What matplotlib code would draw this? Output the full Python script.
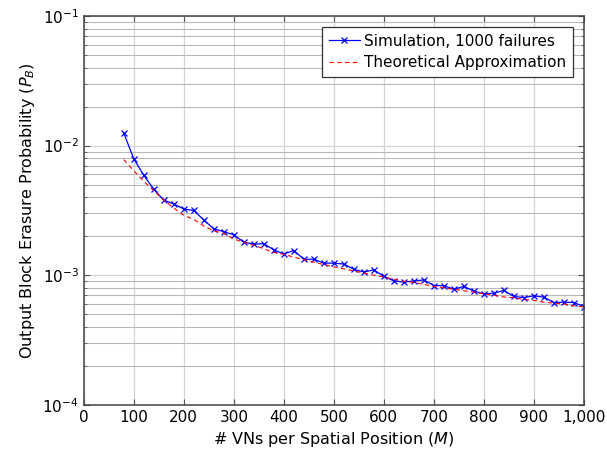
import matplotlib.pyplot as plt
import numpy as np
from matplotlib.ticker import FixedLocator, LogLocator, NullFormatter

# values
M = [80, 100, 120, 140, 160, 180, 200, 220, 240, 260, 280, 300, 320, 340, 360, 380,
     400, 420, 440, 460, 480, 500, 520, 540, 560, 580, 600, 620, 640, 660, 680, 700,
     720, 740, 760, 780, 800, 820, 840, 860, 880, 900, 920, 940, 960, 980, 1000]
sim = [0.0125, 0.0079, 0.0059, 0.0046, 0.0038, 0.00355, 0.00324, 0.00316, 0.00267, 0.00228,
       0.00217, 0.00205, 0.0018, 0.00174, 0.00175, 0.00157, 0.00146, 0.00155, 0.00133, 0.00133,
       0.00124, 0.00124, 0.00122, 0.00111, 0.00106, 0.0011, 0.00098, 0.000905, 0.000885, 0.000905,
       0.00092, 0.000833, 0.00083, 0.00078, 0.00082, 0.000754, 0.000719, 0.000728, 0.000763,
       0.000686, 0.000673, 0.000694, 0.000677, 0.000616, 0.00062, 0.000616, 0.000574]
theory = [0.0078, 0.0064, 0.0053, 0.0045, 0.0038, 0.0033, 0.0029, 0.0027, 0.0024, 0.0022,
          0.0021, 0.0019, 0.0018, 0.0017, 0.0016, 0.0015, 0.00145, 0.00138, 0.00132, 0.00126,
          0.00121, 0.00116, 0.00112, 0.00108, 0.00104, 0.001, 0.00097, 0.00093, 0.0009, 0.00088,
          0.00085, 0.00082, 0.0008, 0.00078, 0.00076, 0.00074, 0.00072, 0.0007, 0.00068,
          0.00067, 0.00065, 0.00064, 0.00062, 0.00061, 0.0006, 0.00058, 0.00057]
xticks = [0, 100, 200, 300, 400, 500, 600, 700, 800, 900, 1000]
xticklabels = ['0', '100', '200', '300', '400', '500', '600', '700', '800', '900', '1,000']

plt.rcParams['font.family'] = 'DejaVu Sans'
plt.rcParams['mathtext.fontset'] = 'dejavusans'

fig = plt.figure(figsize=(6.07, 4.57), dpi=100)
ax = fig.add_axes([0.138, 0.114, 0.824, 0.851])

ax.plot(M, sim, color='blue', lw=0.9, marker='x', ms=4, mew=0.9,
        label='Simulation, 1000 failures')
ax.plot(M, theory, color='red', lw=0.8, ls=(0, (4, 3)),
        label='Theoretical Approximation')

ax.set_yscale('log')
ax.set_xlim(0, 1000)
ax.set_ylim(1e-4, 1e-1)
ax.xaxis.set_major_locator(FixedLocator(xticks))
ax.set_xticklabels(xticklabels)
ax.yaxis.set_major_locator(LogLocator(base=10, numticks=10))
ax.yaxis.set_minor_locator(LogLocator(base=10, subs=np.arange(2, 10), numticks=20))
ax.yaxis.set_minor_formatter(NullFormatter())

ax.grid(True, which='major', color='#d3d3d3', lw=0.9)
ax.grid(True, which='minor', axis='y', color='#b8b8b8', lw=0.8)
ax.set_axisbelow(True)

ax.tick_params(which='both', direction='in', top=True, right=True, labelsize=11, color='#555555')
ax.tick_params(which='major', length=4)
ax.tick_params(which='minor', length=2.5)
for s in ax.spines.values():
    s.set_color('#444444')
    s.set_linewidth(1.1)

ax.set_xlabel(r'# VNs per Spatial Position ($M$)', fontsize=11.5)
ax.set_ylabel(r'Output Block Erasure Probability ($P_B$)', fontsize=11.5)

leg = ax.legend(loc='upper right', fontsize=11, fancybox=False, framealpha=1,
                edgecolor='#333333', handlelength=2.0, borderaxespad=0.7,
                borderpad=0.45, labelspacing=0.45, handletextpad=0.3, numpoints=1)
leg.get_frame().set_linewidth(0.9)

fig.savefig('out.png', dpi=100)
